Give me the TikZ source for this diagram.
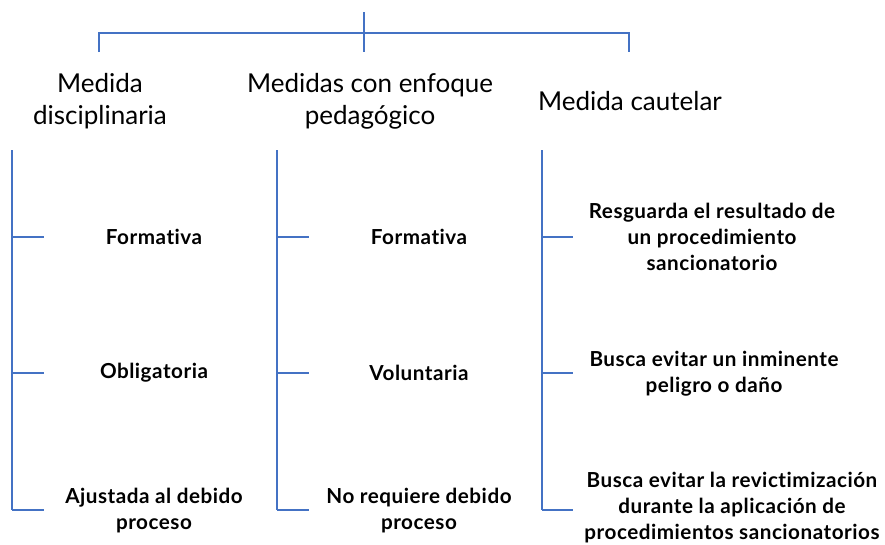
\documentclass[tikz,border=0pt]{standalone}
\usepackage{fontspec}
\setmainfont[Ligatures=NoCommon]{Lato}
\usetikzlibrary{positioning}
\definecolor{ramaazul}{HTML}{4472C4}

\begin{document}
\begin{tikzpicture}[%
    x=0.75pt,
    y=-0.75pt,
    rama/.style={%
      draw=ramaazul,
      line width=2.2pt
    },
    titulo/.style={%
      align=center,
      inner sep=0pt,
      font=\fontsize{19.5}{24}\selectfont
    },
    hoja/.style={%
      align=center,
      inner sep=0pt,
      font=\fontsize{15.5}{19.5}\selectfont\bfseries\addfontfeatures{LetterSpace=2.5}
    }
  ]
    \useasboundingbox (0,0) rectangle (885,544);

    % cabecera
    \coordinate (raiz) at (364,12);
    \coordinate (barraI) at (99,33);
    \coordinate (barraD) at (629,33);
    \coordinate (caidaI) at (99,52);
    \coordinate (caidaM) at (364,52);
    \coordinate (caidaD) at (629,52);
    \draw[rama] (raiz) -- (caidaM);
    \draw[rama] (caidaI) -- (barraI) -- (barraD) -- (caidaD);

    \node[titulo] (disc) at (100,101) {Medida\\disciplinaria};
    \node[titulo] (ped)  at (370,101) {Medidas con enfoque\\pedagógico};
    \node[titulo] (caut) at (630,101) {Medida cautelar};

    % columnas
    \coordinate (d0) at (12,150);   \coordinate (d3) at (12,510);
    \coordinate (p0) at (277,150);  \coordinate (p3) at (277,510);
    \coordinate (c0) at (542,150);  \coordinate (c3) at (542,510);
    \draw[rama] (d0) -- (d3);
    \draw[rama] (p0) -- (p3);
    \draw[rama] (c0) -- (c3);

    \node[hoja] (dForm) at (154,237)   {Formativa};
    \node[hoja] (dObl)  at (154,373)   {Obligatoria};
    \node[hoja] (dAju)  at (154,510.5) {Ajustada al debido\\proceso};

    \node[hoja] (pForm) at (419,237)   {Formativa};
    \node[hoja] (pVol)  at (419,373)   {Voluntaria};
    \node[hoja] (pNo)   at (419,510.5) {No requiere debido\\proceso};

    \node[hoja] (cRes)  at (712,237)   {Resguarda el resultado de\\un procedimiento\\sancionatorio};
    \node[hoja] (cBus)  at (714,373.5) {Busca evitar un inminente\\peligro o daño};
    \node[hoja] (cRev)  at (732,507.5) {Busca evitar la revictimización\\durante la aplicación de\\procedimientos sancionatorios};

    \draw[rama] (12,237) -- (44,237);
    \draw[rama] (12,373) -- (44,373);
    \draw[rama] (d3) -- (44,510);
    \draw[rama] (277,237) -- (309,237);
    \draw[rama] (277,373) -- (309,373);
    \draw[rama] (p3) -- (309,510);
    \draw[rama] (542,237) -- (573,237);
    \draw[rama] (542,373) -- (573,373);
    \draw[rama] (c3) -- (573,510);
  \end{tikzpicture}
\end{document}
